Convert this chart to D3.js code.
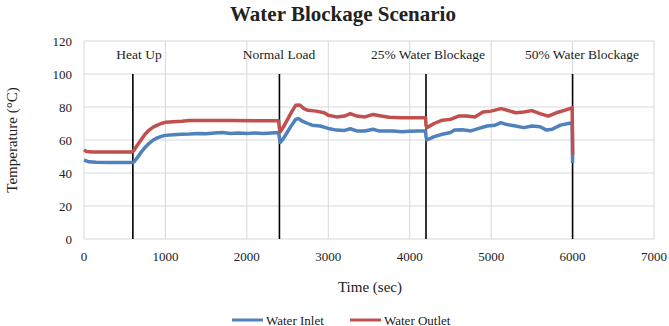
<!DOCTYPE html>
<html>
<head>
<meta charset="utf-8">
<script src="https://cdn.jsdelivr.net/npm/d3@7"></script>
<style>
  body { margin: 0; background: #fff; }
  text { font-family: "Liberation Serif", "Times New Roman", serif; fill: #222; }
</style>
</head>
<body>
<script>
    var w = 669;
    var h = 326;

    // time (sec), temperature (°C)
    var inletData = [[0,47.8],[20,47.5],[60,46.8],[150,46.5],[300,46.3],[450,46.3],[590,46.3],[610,46.5],[650,49],
        [700,52.5],[750,55.5],[800,58],[850,60],[900,61.3],[950,62.2],[1000,62.8],[1100,63.2],[1200,63.5],
        [1300,63.6],[1400,64],[1500,63.8],[1600,64.2],[1700,64.5],[1800,64],[1900,64.3],[2000,64],[2100,64.2],
        [2200,64],[2300,64.3],[2390,64.5],[2400,61],[2410,58.5],[2450,61],[2500,65],[2550,69],[2600,72.5],
        [2630,73],[2680,71.5],[2750,70],[2800,69],[2900,68.5],[3000,67],[3100,66],[3200,65.8],[3270,66.8],
        [3350,65.5],[3450,65.5],[3550,66.5],[3620,65.5],[3800,65.5],[3900,65],[4000,65.3],[4100,65.5],
        [4195,65.5],[4200,62],[4210,60],[4300,62],[4400,63.5],[4500,64.5],[4550,66],[4650,66.2],[4750,65.5],
        [4850,67],[4950,68.5],[5050,69],[5120,70.5],[5180,69.5],[5300,68.5],[5400,67.5],[5500,68.5],
        [5600,68],[5680,66],[5750,66.5],[5850,69],[5950,70],[5995,70.5],[6000,52],[6000,46]];

    var outletData = [[0,54],[30,53],[100,52.8],[300,52.8],[590,52.8],[610,53.5],[650,56.5],[700,60],
        [750,63.5],[800,66],[850,67.8],[900,69],[950,70],[1000,70.7],[1100,71],[1200,71.3],[1300,71.8],
        [1500,71.8],[1800,71.8],[2100,71.7],[2390,71.7],[2400,67],[2410,65],[2450,68],[2500,72.5],[2550,77],
        [2600,81],[2650,81.2],[2700,79],[2750,78],[2850,77.5],[2950,76.5],[3000,75],[3100,74],[3200,74.5],
        [3270,76],[3350,74.5],[3450,74],[3550,75.5],[3650,74.5],[3750,73.8],[3900,73.5],[4050,73.5],
        [4195,73.5],[4200,69],[4210,67.5],[4300,70],[4400,72],[4500,72.5],[4600,74.5],[4700,74.5],
        [4800,74],[4900,77],[5000,77.5],[5120,79],[5200,78],[5300,76.5],[5400,77],[5500,77.8],[5600,76],
        [5700,74.5],[5800,76.5],[5900,78],[5995,79.5],[6000,60],[6000,51]];

    var phaseTimes = [600, 2400, 4200, 6000];
    var phaseLabels = ["Heat Up", "Normal Load", "25% Water Blockage", "50% Water Blockage"];
    var phaseLabelX = [139, 279, 428, 582];   // pixel centres of the labels
    var xTicks = [0, 1000, 2000, 3000, 4000, 5000, 6000, 7000];
    var yTicks = [0, 20, 40, 60, 80, 100, 120];

    var series = [
        { name: "Water Inlet", color: "#4f81bd", data: inletData },
        { name: "Water Outlet", color: "#c0504d", data: outletData }
    ];

    var svg = d3.select("body").append("svg")
                .attr("width", w)
                .attr("height", h);

    var x = d3.scaleLinear().domain([0, 7000]).range([84, 654]);
    var y = d3.scaleLinear().domain([0, 120]).range([239, 41]);

    // gridlines
    svg.append("g").selectAll("line")
       .data(yTicks).enter().append("line")
       .attr("x1", x(0)).attr("x2", x(7000))
       .attr("y1", d => y(d)).attr("y2", d => y(d))
       .attr("stroke", "#d9d9d9").attr("stroke-width", 1);
    svg.append("g").selectAll("line")
       .data(xTicks).enter().append("line")
       .attr("y1", y(0)).attr("y2", y(120))
       .attr("x1", d => x(d)).attr("x2", d => x(d))
       .attr("stroke", "#d9d9d9").attr("stroke-width", 1);

    // tick labels
    svg.append("g").selectAll("text")
       .data(yTicks).enter().append("text")
       .attr("x", 72).attr("y", d => y(d) + 4.5)
       .attr("text-anchor", "end")
       .style("font-size", "13px")
       .text(d => d);
    svg.append("g").selectAll("text")
       .data(xTicks).enter().append("text")
       .attr("x", d => x(d)).attr("y", 261)
       .attr("text-anchor", "middle")
       .style("font-size", "13px")
       .text(d => d);

    // phase separators
    svg.append("g").selectAll("line")
       .data(phaseTimes).enter().append("line")
       .attr("x1", d => x(d)).attr("x2", d => x(d))
       .attr("y1", y(0)).attr("y2", y(100))
       .attr("stroke", "#000").attr("stroke-width", 1.6);

    svg.append("g").selectAll("text")
       .data(phaseLabels).enter().append("text")
       .attr("x", (d, i) => phaseLabelX[i])
       .attr("y", 59)
       .attr("text-anchor", "middle")
       .style("font-size", "13.5px")
       .text(d => d);

    var line = d3.line().x(d => x(d[0])).y(d => y(d[1]));

    svg.append("g").selectAll("path")
       .data(series).enter().append("path")
       .attr("d", d => line(d.data))
       .attr("fill", "none")
       .attr("stroke", d => d.color)
       .attr("stroke-width", 3.5)
       .attr("stroke-linejoin", "round");

    // title and axis titles
    svg.append("text")
       .attr("x", 343).attr("y", 21)
       .attr("text-anchor", "middle")
       .style("font-size", "21px").style("font-weight", "bold")
       .text("Water Blockage Scenario");

    svg.append("text")
       .attr("transform", "translate(17,140) rotate(-90)")
       .attr("text-anchor", "middle")
       .style("font-size", "15px")
       .text("Temperature (°C)");

    svg.append("text")
       .attr("x", 370).attr("y", 292)
       .attr("text-anchor", "middle")
       .style("font-size", "15px")
       .text("Time (sec)");

    // legend
    var legend = svg.append("g").selectAll("g")
       .data(series).enter().append("g")
       .attr("transform", (d, i) => "translate(" + (232 + i * 118) + ",320)");
    legend.append("line")
       .attr("x1", 0).attr("x2", 31)
       .attr("stroke", d => d.color).attr("stroke-width", 3);
    legend.append("text")
       .attr("x", 34).attr("y", 4.5)
       .style("font-size", "13px")
       .text(d => d.name);
</script>
</body>
</html>
